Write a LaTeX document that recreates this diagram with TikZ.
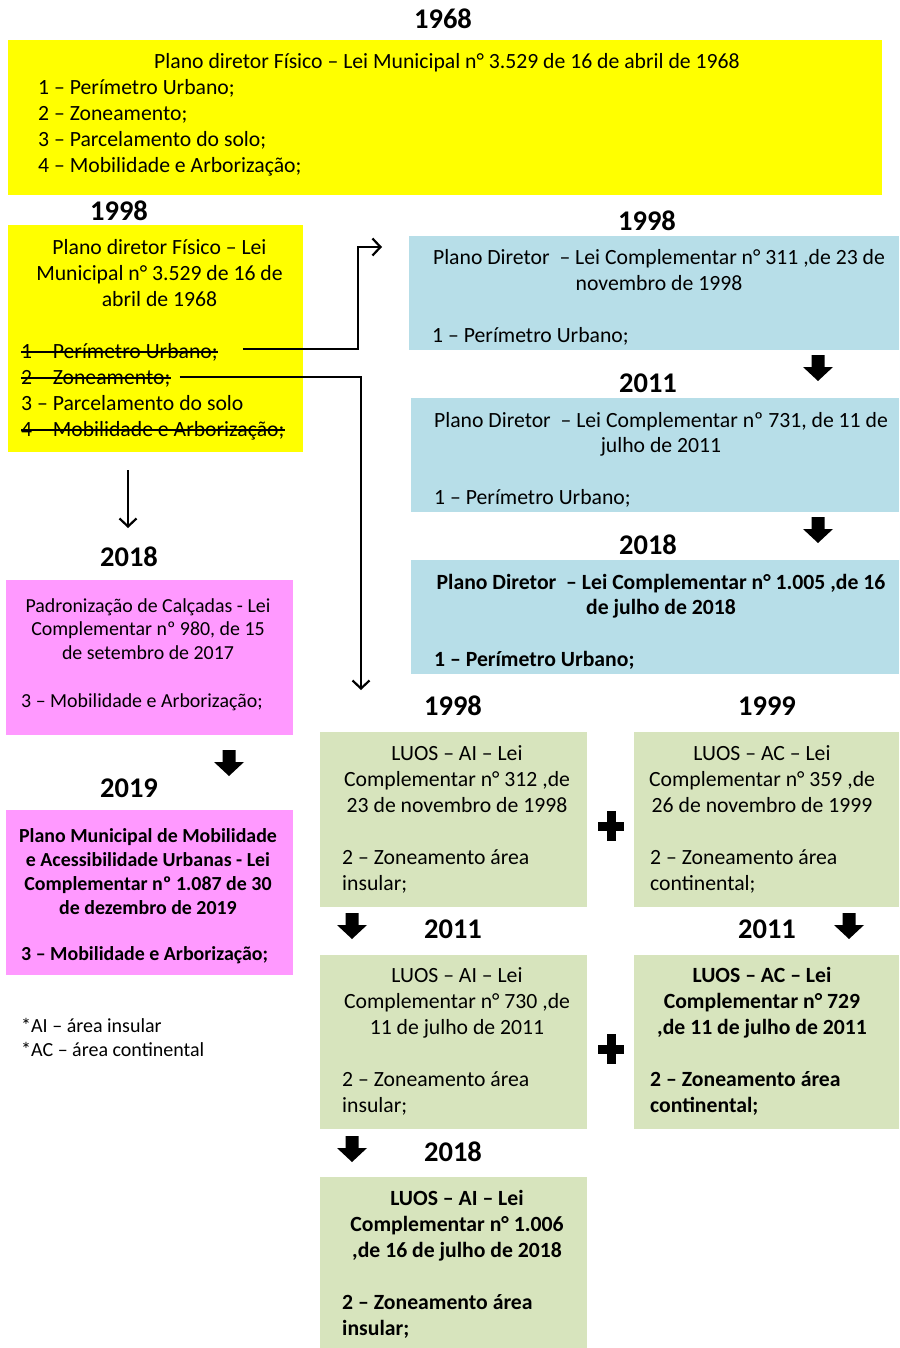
\documentclass[tikz,border=0pt]{standalone}
\usepackage{fontspec}
\setmainfont{Carlito}
\usepackage{tikz}
\usepackage{xcolor}
\usetikzlibrary{positioning}
\usetikzlibrary{arrows.meta}
\definecolor{ylw}{HTML}{FFFF00}
\definecolor{blu}{HTML}{B7DEE8}
\definecolor{pnk}{HTML}{FF99FF}
\definecolor{grn}{HTML}{D7E4BD}

\begin{document}
\begin{tikzpicture}[x=1pt, y=-1pt,
	box/.style={inner sep=0, outer sep=0},
	year/.style={inner sep=0, font=\fontsize{28.5}{30}\selectfont\bfseries},
	txt/.style={inner sep=0, anchor=base, align=center, font=\fontsize{21.7}{26}\selectfont},
	item/.style={inner sep=0, anchor=base west, align=left, font=\fontsize{21.7}{26}\selectfont},
	strike/.style={line width=1.6pt},
	conn/.style={line width=2.2pt, -{Straight Barb[length=8pt, width=17pt]}},
	darrow/.pic={\fill (-6.5,-13) -- (6.5,-13) -- (6.5,-1) -- (15,-1) -- (0,13) -- (-15,-1) -- (-6.5,-1) -- cycle;},
	plus/.pic={\fill (-4.5,-15) rectangle (4.5,15); \fill (-13,-4.5) rectangle (13,4.5);}]
			\useasboundingbox (0,0) rectangle (899,1348);
			
			\node[year] at (443, 19) (y1968) {1968};
			\node[box, fill=ylw, minimum width=874, minimum height=155] at (445, 117.5) (plano68) {};
			\node[txt] at (447, 69) (plano68t) {Plano diretor Físico – Lei Municipal n° 3.529 de 16 de abril de 1968};
			\node[item] at (38, 173) (plano68i) {1 – Perímetro Urbano;\\2 – Zoneamento;\\3 – Parcelamento do solo;\\4 – Mobilidade e Arborização;};
			
			\node[year] at (119, 211) (y1998a) {1998};
			\node[box, fill=ylw, minimum width=295, minimum height=227] at (155.5, 338.5) (plano98) {};
			\node[txt] at (159.5, 306) (plano98t) {Plano diretor Físico – Lei\\Municipal n° 3.529 de 16 de\\abril de 1968};
			\node[item] at (21, 358) (it1) {1 – Perímetro Urbano;};
			\node[item] at (21, 384) (it2) {2 – Zoneamento;};
			\node[item] at (21, 410) (it3) {3 – Parcelamento do solo};
			\node[item] at (21, 436) (it4) {4 – Mobilidade e Arborização;};
			\draw[strike] ([yshift=6pt]it1.base west) -- ([yshift=6pt]it1.base east);
			\draw[strike] ([yshift=6pt]it2.base west) -- ([yshift=6pt]it2.base east);
			\draw[strike] ([yshift=6pt]it4.base west) -- ([yshift=6pt]it4.base east);
			
			\node[year] at (647, 221) (y1998b) {1998};
			\node[box, fill=blu, minimum width=490, minimum height=114] at (654, 293) (pd98) {};
			\node[txt, font=\fontsize{21.7}{25}\selectfont] at (659, 290) (pd98t) {Plano Diretor~ – Lei Complementar n° 311 ,de 23 de\\novembro de 1998};
			\node[item] at (432, 342) (pd98i) {1 – Perímetro Urbano;};
			
			\node[year] at (648, 383) (y2011a) {2011};
			\node[box, fill=blu, minimum width=488, minimum height=114] at (655, 455) (pd11) {};
			\node[txt, font=\fontsize{21.7}{25}\selectfont] at (661, 452) (pd11t) {Plano Diretor~ – Lei Complementar nº 731, de 11 de\\julho de 2011};
			\node[item] at (434, 504) (pd11i) {1 – Perímetro Urbano;};
			
			\node[year] at (648, 545) (y2018a) {2018};
			\node[box, fill=blu, minimum width=488, minimum height=114] at (655, 617) (pd18) {};
			\node[txt, font=\fontsize{21.7}{25}\selectfont\bfseries] at (661, 614) (pd18t) {Plano Diretor~ – Lei Complementar n° 1.005 ,de 16\\de julho de 2018};
			\node[item, font=\fontsize{21.7}{26}\selectfont\bfseries] at (434, 666) (pd18i) {1 – Perímetro Urbano;};
			
			\node[year] at (129, 557) (y2018b) {2018};
			\node[box, fill=pnk, minimum width=287, minimum height=155] at (149.5, 657.5) (calc17) {};
			\node[txt, font=\fontsize{19.9}{23.5}\selectfont] at (148, 659) (calc17t) {Padronização de Calçadas - Lei\\Complementar nº 980, de 15\\de setembro de 2017};
			\node[item, font=\fontsize{19.9}{23.5}\selectfont] at (21, 707) (calc17i) {3 – Mobilidade e Arborização;};
			
			\node[year] at (129, 788) (y2019) {2019};
			\node[box, fill=pnk, minimum width=287, minimum height=165] at (149.5, 892.5) (mob19) {};
			\node[txt, font=\fontsize{19.9}{24}\selectfont\bfseries] at (148, 914) (mob19t) {Plano Municipal de Mobilidade\\e Acessibilidade Urbanas - Lei\\Complementar nº 1.087 de 30\\de dezembro de 2019};
			\node[item, font=\fontsize{19.9}{24}\selectfont\bfseries] at (21, 960) (mob19i) {3 – Mobilidade e Arborização;};
			
			\node[item, font=\fontsize{20}{24}\selectfont] at (21, 1056) (nota) {*AI – área insular\\*AC – área continental};
			
			\node[year] at (453, 706) (y1998c) {1998};
			\node[year] at (767, 706) (y1999) {1999};
			\node[box, fill=grn, minimum width=267, minimum height=175] at (453.5, 819.5) (ai98) {};
			\node[txt] at (457, 812) (ai98t) {LUOS – AI – Lei\\Complementar n° 312 ,de\\23 de novembro de 1998};
			\node[item] at (342, 890) (ai98i) {2 – Zoneamento área\\insular;};
			\node[box, fill=grn, minimum width=265, minimum height=175] at (766.5, 819.5) (ac99) {};
			\node[txt] at (762, 812) (ac99t) {LUOS – AC – Lei\\Complementar n° 359 ,de\\26 de novembro de 1999};
			\node[item] at (650, 890) (ac99i) {2 – Zoneamento área\\continental;};
			
			\node[year] at (453, 929) (y2011b) {2011};
			\node[year] at (767, 929) (y2011c) {2011};
			\node[box, fill=grn, minimum width=267, minimum height=174] at (453.5, 1042) (ai11) {};
			\node[txt] at (457, 1034) (ai11t) {LUOS – AI – Lei\\Complementar n° 730 ,de\\11 de julho de 2011};
			\node[item] at (342, 1112) (ai11i) {2 – Zoneamento área\\insular;};
			\node[box, fill=grn, minimum width=265, minimum height=174] at (766.5, 1042) (ac11) {};
			\node[txt, font=\fontsize{21.7}{26}\selectfont\bfseries] at (762, 1034) (ac11t) {LUOS – AC – Lei\\Complementar n° 729\\,de 11 de julho de 2011};
			\node[item, font=\fontsize{21.7}{26}\selectfont\bfseries] at (650, 1112) (ac11i) {2 – Zoneamento área\\continental;};
			
			\node[year] at (453, 1152) (y2018c) {2018};
			\node[box, fill=grn, minimum width=267, minimum height=171] at (453.5, 1262.5) (ai18) {};
			\node[txt, font=\fontsize{21.7}{26}\selectfont\bfseries] at (457, 1257) (ai18t) {LUOS – AI – Lei\\Complementar n° 1.006\\,de 16 de julho de 2018};
			\node[item, font=\fontsize{21.7}{26}\selectfont\bfseries] at (342, 1335) (ai18i) {2 – Zoneamento área\\insular;};
			
			\pic at (818, 368) {darrow};
			\pic at (818, 530) {darrow};
			\pic at (229, 763) {darrow};
			\pic at (352, 926) {darrow};
			\pic at (849, 926) {darrow};
			\pic at (352, 1149) {darrow};
			\pic at (611, 826) {plus};
			\pic at (611, 1049) {plus};
			
			\draw[conn] ([xshift=25pt, yshift=3pt]it1.east) -| ([xshift=-51pt, yshift=46pt]pd98.west) -- ([xshift=-27pt, yshift=46pt]pd98.west);
			\draw[conn] ([xshift=9pt, yshift=1pt]it2.east) -| ([xshift=41pt, yshift=42pt]ai98.north west);
			\draw[conn] ([xshift=-27.5pt, yshift=-18pt]plano98.south) -- ([xshift=-21.5pt, yshift=52pt]calc17.north);
		\end{tikzpicture}
\end{document}
